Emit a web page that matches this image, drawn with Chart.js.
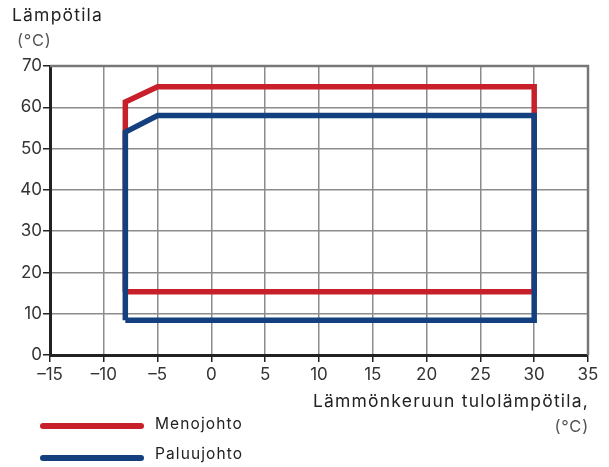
<!DOCTYPE html>
<html>
<head>
<meta charset="utf-8">
<script src="https://cdn.jsdelivr.net/npm/chart.js@4"></script>
<style>
  html, body { margin: 0; padding: 0; background: #fff; }
  #wrap { position: relative; width: 609px; height: 467px; font-family: Inter, "Noto Sans", sans-serif; color: #222; }
  #chart { position: absolute; left: 0; top: 0; }
  .txt { position: absolute; white-space: nowrap; font-size: 17.5px; letter-spacing: 1.2px; }
  .unit { color: #555; font-size: 16.5px; letter-spacing: 0.8px; }
  .leg { font-size: 15.5px; letter-spacing: 1.1px; }
  .leg-line { position: absolute; height: 6px; border-radius: 3px; width: 104px; left: 40px; }
</style>
</head>
<body>
<div id="wrap">
  <canvas id="chart" width="609" height="467"></canvas>
  <div class="txt" style="left:12px; top:4px;">Lämpötila</div>
  <div class="txt unit" style="left:17px; top:30px;">(°C)</div>
  <div class="txt" style="right:20px; top:390px;">Lämmönkeruun tulolämpötila,</div>
  <div class="txt unit" style="right:20px; top:416px;">(°C)</div>
  <div class="leg-line" style="top:423px; background:#c8202a;"></div>
  <div class="txt leg" style="left:155px; top:414px;">Menojohto</div>
  <div class="leg-line" style="top:455px; background:#15407f;"></div>
  <div class="txt leg" style="left:155px; top:444px;">Paluujohto</div>
</div>
<script>
// operating envelopes
var menoX = [-8, -8, -5, 30, 30, -8];
var menoY = [15.3, 61.3, 65, 65, 15.3, 15.3];
var paluuX = [-8, -8, -5, 30, 30, -8];
var paluuY = [8.4, 54, 58, 58, 8.4, 8.4];

var xTicks = [-15, -10, -5, 0, 5, 10, 15, 20, 25, 30, 35];
var yTicks = [0, 10, 20, 30, 40, 50, 60, 70];

function points(xs, ys) {
  return xs.map(function (x, i) { return { x: x, y: ys[i] }; });
}

var gridColor = "#8c8c8c";
var tickFont = { family: "Inter, 'Noto Sans', sans-serif", size: 17 };

new Chart(document.getElementById("chart").getContext("2d"), {
  type: "scatter",
  data: {
    datasets: [
      {
        label: "Menojohto",
        data: points(menoX, menoY),
        showLine: true,
        borderColor: "#c8202a",
        borderWidth: 5.5,
        pointRadius: 0,
        borderJoinStyle: "miter",
        order: 2,
      },
      {
        label: "Paluujohto",
        data: points(paluuX, paluuY),
        showLine: true,
        borderColor: "#15407f",
        borderWidth: 5.5,
        pointRadius: 0,
        borderJoinStyle: "miter",
        order: 1,
      },
    ],
  },
  options: {
    responsive: false,
    animation: false,
    layout: { padding: { top: 66, right: 21, left: 0, bottom: 0 } },
    plugins: { legend: { display: false }, tooltip: { enabled: false } },
    scales: {
      x: {
        type: "linear",
        min: -15,
        max: 35,
        afterBuildTicks: function (s) { s.ticks = xTicks.map(function (v) { return { value: v }; }); },
        afterFit: function (s) { s.height = 112; },
        ticks: {
          color: "#333",
          font: tickFont,
          padding: 3,
          callback: function (v) { return String(v).replace("-", "\u2013"); },
        },
        grid: { color: gridColor, lineWidth: 1.5, tickLength: 7, tickColor: "#222", tickWidth: 1.5 },
        border: { color: "#222", width: 3 },
      },
      y: {
        min: 0,
        max: 70,
        afterBuildTicks: function (s) { s.ticks = yTicks.map(function (v) { return { value: v }; }); },
        afterFit: function (s) { s.width = 50; },
        ticks: { color: "#333", font: tickFont, padding: 1 },
        grid: { color: gridColor, lineWidth: 1.5, tickLength: 7, tickColor: "#222", tickWidth: 1.5 },
        border: { color: "#222", width: 3 },
      },
    },
  },
  plugins: [{
    id: "frame",
    afterDraw: function (c) {
      var a = c.chartArea, ctx = c.ctx;
      ctx.save();
      ctx.strokeStyle = "#777";
      ctx.lineWidth = 2.5;
      ctx.beginPath();
      ctx.moveTo(a.left, a.top);
      ctx.lineTo(a.right, a.top);
      ctx.lineTo(a.right, a.bottom);
      ctx.stroke();
      ctx.restore();
    },
  }],
});
</script>
</body>
</html>
